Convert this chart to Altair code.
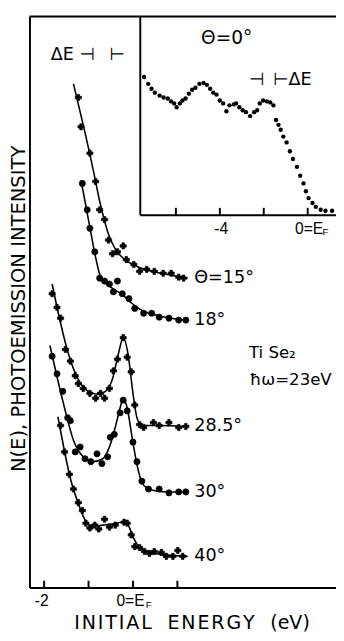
import altair as alt
import pandas as pd

FONT = "DejaVu Sans"
NUMFONT = "Liberation Sans"

# ---------------- main panel: initial energy (eV) vs N(E) (arb. units) ----------------
angles = ["15", "18", "28.5", "30", "40"]
curve_labels = ["Θ=15°", "18°", "28.5°", "30°", "40°"]
markers = ["cross", "circle", "cross", "circle", "cross"]

e15_line = [-1.34, -1.12, -0.90, -0.75, -0.66, -0.55, -0.40, -0.18, 0.09, 0.42, 0.75, 1.23]
i15_line = [516, 474, 429, 396, 379, 362, 347, 336, 329, 324, 321, 317]
e15_pts = [-1.23, -1.17, -0.97, -0.84, -0.75, -0.64, -0.55, -0.46, -0.35, -0.22, -0.15,
           0.02, 0.15, 0.31, 0.48, 0.68, 0.86, 1.03, 1.14]
i15_pts = [502, 472, 445, 416, 387, 377, 356, 342, 344, 350, 336,
           331, 324, 326, 324, 322, 322, 318, 317]

e18_line = [-1.17, -1.06, -0.95, -0.84, -0.75, -0.66, -0.51, -0.24, -0.02, 0.20, 0.53, 0.86, 1.23]
i18_line = [417, 391, 364, 338, 321, 314, 308, 300, 291, 284, 279, 276, 274]
e18_pts = [-1.14, -1.03, -0.97, -0.86, -0.75, -0.64, -0.53, -0.44, -0.35, -0.24, -0.09,
           0.04, 0.24, 0.42, 0.59, 0.81, 1.03, 1.19]
i18_pts = [414, 387, 368, 344, 317, 314, 311, 303, 314, 301, 296,
           286, 281, 281, 277, 276, 274, 274]

e285_line = [-1.82, -1.67, -1.45, -1.23, -1.01, -0.79, -0.62, -0.46, -0.33, -0.22, -0.11,
             0.00, 0.09, 0.20, 0.53, 1.23]
i285_line = [311, 279, 239, 213, 201, 198, 201, 214, 239, 256, 239,
             199, 174, 166, 166, 165]
e285_pts = [-1.82, -1.71, -1.63, -1.52, -1.41, -1.30, -1.23, -1.12, -0.97, -0.84, -0.73,
            -0.64, -0.53, -0.44, -0.35, -0.22, -0.13, -0.04, 0.04, 0.15, 0.24, 0.46,
            0.59, 0.81, 1.03, 1.19]
i285_pts = [301, 287, 276, 244, 232, 217, 209, 204, 199, 194, 199,
            194, 204, 222, 234, 256, 236, 221, 187, 167, 164, 169,
            166, 169, 164, 165]

e30_line = [-1.87, -1.71, -1.54, -1.34, -1.12, -0.90, -0.68, -0.53, -0.40, -0.29, -0.22,
            -0.13, -0.02, 0.09, 0.22, 0.42, 0.75, 1.23]
i30_line = [248, 216, 184, 151, 134, 129, 132, 144, 164, 184, 194,
            184, 154, 126, 106, 100, 98, 98]
e30_pts = [-1.82, -1.71, -1.58, -1.47, -1.41, -1.30, -1.19, -1.08, -0.95, -0.81, -0.70,
           -0.57, -0.51, -0.42, -0.29, -0.22, -0.13, 0.00, 0.09, 0.20, 0.35, 0.59,
           0.81, 1.03, 1.19]
i30_pts = [237, 219, 201, 174, 171, 139, 144, 132, 129, 137, 127,
           134, 154, 157, 179, 192, 181, 149, 129, 109, 101, 101,
           97, 98, 98]

e40_line = [-1.69, -1.56, -1.41, -1.23, -1.06, -0.90, -0.68, -0.46, -0.24, -0.11, 0.00,
            0.13, 0.31, 0.64, 1.23]
i40_line = [175, 144, 112, 86, 68, 63, 64, 65, 67, 64, 52,
            42, 37, 34, 32]
e40_pts = [-1.63, -1.54, -1.43, -1.34, -1.23, -1.14, -1.06, -0.97, -0.86, -0.77, -0.64,
           -0.53, -0.40, -0.20, -0.13, -0.04, 0.04, 0.15, 0.26, 0.37, 0.48, 0.64,
           0.75, 0.90, 1.01, 1.12]
i40_pts = [166, 139, 116, 101, 87, 79, 66, 61, 64, 60, 70,
           62, 64, 67, 66, 54, 42, 41, 37, 35, 37, 36,
           32, 32, 38, 32]

main_ticks = [-2, -1, 0, 1]
main_labels = [-2, 0]

# ---------------- inset: theta = 0 deg ----------------
e0 = [-7.45, -7.26, -7.11, -6.96, -6.74, -6.56, -6.37, -6.22, -6.08, -5.97, -5.82,
      -5.70, -5.56, -5.41, -5.26, -5.11, -4.93, -4.74, -4.59, -4.44, -4.30, -4.15,
      -4.00, -3.85, -3.70, -3.56, -3.36, -3.26, -3.11, -2.96, -2.81, -2.62, -2.44,
      -2.30, -2.18, -2.03, -1.85, -1.70, -1.56, -1.44, -1.33, -1.23, -1.11, -0.96,
      -0.81, -0.67, -0.49, -0.34, -0.19, -0.08, 0.04, 0.22, 0.37, 0.59, 0.81, 1.11]
i0 = [141, 134, 129, 125, 122, 120, 119, 116, 114, 110, 114,
      117, 119, 124, 128, 130, 134, 135, 133, 129, 125, 123,
      117, 114, 106, 112, 113, 114, 110, 107, 105, 101, 105,
      107, 114, 117, 116, 115, 112, 97, 92, 87, 80, 74,
      65, 57, 49, 40, 32, 24, 17, 12, 8, 5, 4, 4]
inset_ticks = [-6, -4, -2, 0]
inset_labels = [-4, 0]

# ---------------- tables ----------------
curves = {
    "15": (e15_line, i15_line, e15_pts, i15_pts),
    "18": (e18_line, i18_line, e18_pts, i18_pts),
    "28.5": (e285_line, i285_line, e285_pts, i285_pts),
    "30": (e30_line, i30_line, e30_pts, i30_pts),
    "40": (e40_line, i40_line, e40_pts, i40_pts),
}
line_rows, pt_rows, lab_rows = [], [], []
for name, mk, lab in zip(angles, markers, curve_labels):
    el, il, ep, ip = curves[name]
    line_rows += [{"curve": name, "e": a, "i": b} for a, b in zip(el, il)]
    pt_rows += [{"curve": name, "marker": mk, "e": a, "i": b} for a, b in zip(ep, ip)]
    lab_rows.append({"e": el[-1] + 0.15, "i": il[-1], "txt": lab})
lines_df = pd.DataFrame(line_rows)
pts_df = pd.DataFrame(pt_rows)
labs_df = pd.DataFrame(lab_rows)
mticks_df = pd.DataFrame({"e": main_ticks})
inset_df = pd.DataFrame({"e0": e0, "i0": i0})
iticks_df = pd.DataFrame({"e0": inset_ticks})
one = pd.DataFrame({"e": [0]})
one_i = pd.DataFrame({"e0": [0]})

W, H = 314, 585
HS = "\u200a"
x_title = HS.join("INITIAL") + "\u2002 " + HS.join("ENERGY") + "\u2002 (eV)"
label_expr = "datum.value == 0 ? '0=E' : '-' + abs(datum.value)"

x_main = alt.Scale(domain=[-2.33, 4.571], nice=False, zero=False)
y_main = alt.Scale(domain=[0, 585], nice=False, zero=False)
x_axis = alt.Axis(values=main_labels, ticks=False, domainWidth=2, labelExpr=label_expr,
                  labelFont=NUMFONT, labelFontSize=16, labelPadding=5, labelOffset=-3,
                  title=x_title, titleFontSize=19.5,
                  titleX=166, titleY=36, titleBaseline="middle")
y_axis = alt.Axis(ticks=False, labels=False, domainWidth=2,
                  title="N(E), PHOTOEMISSION INTENSITY", titleFontSize=20,
                  titleAngle=270, titleX=-11, titleY=299, titleBaseline="middle",
                  titleAlign="center")
X = alt.X("e:Q", scale=x_main, axis=x_axis)
Y = alt.Y("i:Q", scale=y_main, axis=y_axis)

lines = alt.Chart(lines_df).mark_line(color="black", strokeWidth=1.6, interpolate="monotone").encode(
    x=X, y=Y, detail="curve:N")
points = alt.Chart(pts_df).mark_point(filled=True, color="black", opacity=1, size=40,
                                      stroke="black", strokeWidth=0.7).encode(
    x=X, y=Y,
    shape=alt.Shape("marker:N", scale=alt.Scale(domain=["cross", "circle"], range=["cross", "circle"]),
                    legend=None))
labels = alt.Chart(labs_df).mark_text(font=FONT, fontSize=18, align="left", baseline="middle",
                                      color="black").encode(x=X, y=Y, text="txt:N")
mticks = alt.Chart(mticks_df).mark_rule(color="black", strokeWidth=2).encode(
    x=X, y=alt.value(H), y2=alt.value(H - 7))
topline = alt.Chart(one).mark_rule(color="black", strokeWidth=2).encode(
    x=alt.value(0), x2=alt.value(W), y=alt.value(0))
sub_f = alt.Chart(one).mark_text(font=NUMFONT, fontSize=10, text="F", align="left",
                                 baseline="middle", color="black").encode(
    x=alt.datum(0.29), y=alt.value(603))
de_main = alt.Chart(one).mark_text(font=FONT, fontSize=18, text="ΔE ⊣\u2002 ⊢", align="left",
                                   baseline="middle", color="black").encode(
    x=alt.datum(-1.85), y=alt.datum(545))
tise = alt.Chart(one).mark_text(font=FONT, fontSize=17, text="Ti Se₂", align="left",
                                baseline="middle", color="black").encode(
    x=alt.datum(2.61), y=alt.datum(240))
hw = alt.Chart(one).mark_text(font=FONT, fontSize=17, text="ħω=23eV", align="left",
                              baseline="middle", color="black").encode(
    x=alt.datum(2.63), y=alt.datum(213))

main = alt.layer(lines, points, labels, mticks, topline, sub_f, de_main, tise, hw)

# inset layers
x_in = alt.Scale(domain=[-7.644, 1.289], range=[113, 314], nice=False, zero=False)
y_in = alt.Scale(domain=[0, 203], range=[203, 0], nice=False, zero=False)
xi_axis = alt.Axis(orient="bottom", offset=-(H - 203), values=inset_labels, ticks=False,
                   domainWidth=2, labelExpr=label_expr, labelFont=NUMFONT, labelFontSize=16,
                   labelPadding=6, labelOffset=1, title=None)
yi_axis = alt.Axis(orient="left", offset=-113, ticks=False, labels=False, domainWidth=2,
                   title=None)
XI = alt.X("e0:Q", scale=x_in, axis=xi_axis)
YI = alt.Y("i0:Q", scale=y_in, axis=yi_axis)

dots = alt.Chart(inset_df).mark_circle(color="black", opacity=1, size=20).encode(x=XI, y=YI)
iticks = alt.Chart(iticks_df).mark_rule(color="black", strokeWidth=2).encode(
    x=XI, y=alt.value(203), y2=alt.value(196))
th0 = alt.Chart(one_i).mark_text(font=FONT, fontSize=19, text="Θ=0°", align="center",
                                 baseline="middle", color="black").encode(
    x=alt.datum(-3.69), y=alt.datum(181))
de_in = alt.Chart(one_i).mark_text(font=FONT, fontSize=18, text="⊣\u2002⊢ΔE", align="left",
                                   baseline="middle", color="black").encode(
    x=alt.datum(-2.67), y=alt.datum(138))
sub_fi = alt.Chart(one_i).mark_text(font=NUMFONT, fontSize=10, text="F", align="left",
                                    baseline="middle", color="black").encode(
    x=alt.datum(0.68), y=alt.value(221))

inset = alt.layer(dots, iticks, th0, de_in, sub_fi)

chart = alt.layer(main, inset).resolve_scale(x="independent", y="independent").properties(
    width=W, height=H,
    autosize=alt.AutoSizeParams(type="none"),
    padding={"left": 22, "top": 1, "right": 0, "bottom": 47},
).configure_view(strokeWidth=0).configure_axis(
    grid=False, domainColor="black", labelColor="black", titleColor="black",
    labelFont=FONT, titleFont=FONT, titleFontWeight="normal")

chart.save("out.html", embed_options={"renderer": "svg", "actions": False})
